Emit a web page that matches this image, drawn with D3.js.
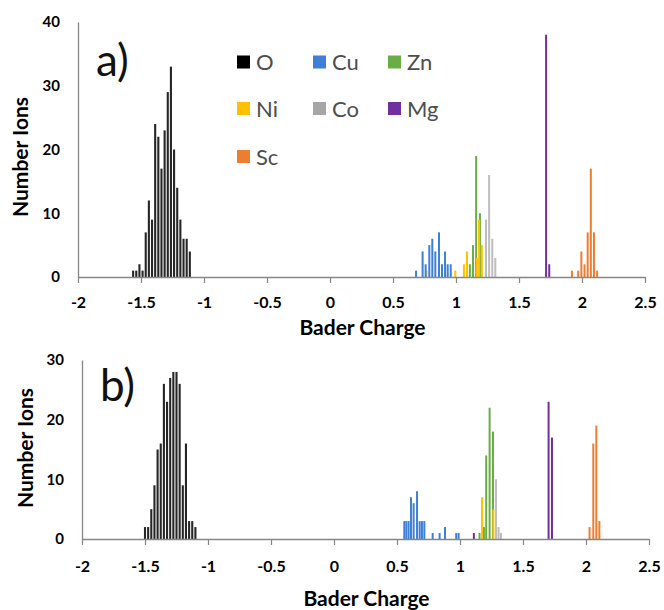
<!DOCTYPE html>
<html>
<head>
<meta charset="utf-8">
<script src="https://cdn.jsdelivr.net/npm/d3@7"></script>
<style>
  body { margin: 0; background: #fff; }
  svg { display: block; }
</style>
</head>
<body>
<svg id="chart" width="664" height="610"></svg>
<script>
// ---- data: [Bader charge, number of ions] ----
var elements = ["O", "Cu", "Zn", "Ni", "Co", "Mg", "Sc"];
var xTicks = [-2, -1.5, -1, -0.5, 0, 0.5, 1, 1.5, 2, 2.5];
var yTicksA = [0, 10, 20, 30, 40];
var yTicksB = [0, 10, 20, 30];

// panel a)
var aO = [[-1.5625,1],[-1.5375,1],[-1.5125,2],[-1.4875,1],[-1.4625,7],[-1.4375,12],[-1.4125,9],
          [-1.3875,24],[-1.3625,22],[-1.3375,17],[-1.3125,23],[-1.2875,29],[-1.2625,33],[-1.2375,20],
          [-1.2125,14],[-1.1875,9],[-1.1625,6],[-1.1375,6],[-1.1125,4]];
var aCu = [[0.683,1],[0.735,4],[0.759,2],[0.788,5],[0.812,6],[0.836,4],[0.865,7],[0.889,2],
           [0.913,4],[0.934,2],[0.958,2]];
var aZn = [[1.11,2],[1.135,5],[1.16,19],[1.19,10]];
var aNi = [[0.765,1],[0.995,1],[1.063,2],[1.087,4],[1.165,3],[1.183,9],[1.205,5]];
var aCo = [[1.238,9],[1.263,16],[1.288,6],[1.312,3]];
var aMg = [[1.715,38],[1.74,2]];
var aSc = [[1.92,1],[1.97,1],[1.995,4],[2.02,2],[2.045,7],[2.07,17],[2.095,7],[2.12,1]];

// panel b)
var bO = [[-1.5,2],[-1.475,2],[-1.45,5],[-1.425,9],[-1.4,15],[-1.375,16],[-1.35,26],[-1.325,23],
          [-1.3,27],[-1.275,28],[-1.25,28],[-1.225,26],[-1.2,9],[-1.175,16],[-1.15,3],[-1.125,3],[-1.1,2]];
var bCu = [[0.558,3],[0.574,3],[0.592,3],[0.611,7],[0.632,6],[0.659,8],[0.68,3],[0.698,3],[0.717,3],
           [0.783,1],[0.838,1],[0.881,2],[0.97,1],[0.989,1]];
var bZn = [[1.155,1],[1.19,2],[1.208,14],[1.235,22],[1.262,18]];
var bNi = [[1.175,7],[1.265,5]];
var bCo = [[1.286,10],[1.306,2],[1.325,1]];
var bMg = [[1.11,1],[1.703,23],[1.73,17]];
var bSc = [[2.028,2],[2.058,16],[2.082,19],[2.106,3]];

// ---- styles ----
var colors = {O: "#262626", Cu: "#3f7fd6", Zn: "#6aad45", Ni: "#ffc000", Co: "#bdbdbd", Mg: "#7030a0", Sc: "#ed7d31"};
var legendColors = {O: "#000000", Cu: "#3f7fd6", Zn: "#6aad45", Ni: "#ffc000", Co: "#a6a6a6", Mg: "#7030a0", Sc: "#ed7d31"};
var axisGrey = "#868686";
var font = "Lato, 'Open Sans', sans-serif";

var svg = d3.select("#chart");

function drawPanel(p) {
  var x = d3.scaleLinear().domain([-2, 2.5]).range([p.left, p.right]);
  var y = d3.scaleLinear().domain([0, p.yMax]).range([p.bottom, p.top]);
  var g = svg.append("g");

  // bars, drawn back to front
  var order = ["Co", "Zn", "Ni", "Cu", "Mg", "Sc", "O"];
  order.forEach(function (el) {
    var w = el === "O" ? 2.1 : 2;
    g.selectAll(null)
      .data(p.series[el])
      .enter().append("rect")
      .attr("x", function (d) { return x(d[0]) - w / 2; })
      .attr("y", function (d) { return y(d[1]); })
      .attr("width", w)
      .attr("height", function (d) { return y(0) - y(d[1]); })
      .attr("fill", colors[el]);
  });

  // x axis
  var gx = g.append("g")
    .attr("transform", "translate(0," + p.bottom + ")")
    .call(d3.axisBottom(x).tickValues(xTicks).tickSize(6).tickSizeOuter(0)
      .tickFormat(function (d) { return String(d); }));
  gx.select(".domain").attr("stroke", axisGrey).attr("stroke-width", 1.3);
  gx.selectAll(".tick line").attr("stroke", axisGrey).attr("stroke-width", 1.2);
  gx.selectAll(".tick text").attr("y", p.xLabelOffset).attr("dy", 0)
    .attr("fill", "#000").attr("font-size", 16).attr("font-weight", "bold").attr("font-family", font);

  // y axis
  var gy = g.append("g")
    .attr("transform", "translate(" + p.left + ",0)")
    .call(d3.axisLeft(y).tickValues(p.yTicks).tickSize(0).tickSizeOuter(0).tickPadding(18));
  gy.select(".domain").attr("stroke", axisGrey).attr("stroke-width", 1.3);
  gy.selectAll(".tick text").attr("fill", "#000").attr("font-size", 15)
    .attr("font-weight", "bold").attr("font-family", font);

  // axis titles
  g.append("text")
    .attr("x", (p.left + p.right) / 2 + 1).attr("y", p.xTitleY)
    .attr("text-anchor", "middle").attr("font-family", font)
    .attr("font-size", 21).attr("font-weight", "bold").text("Bader Charge");
  g.append("text")
    .attr("transform", "translate(" + p.yTitleX + "," + p.yTitleY + ") rotate(-90)")
    .attr("text-anchor", "middle").attr("font-family", font)
    .attr("font-size", 21).attr("font-weight", "bold").text("Number Ions");

  // panel letter
  g.append("text")
    .attr("x", p.left + 18).attr("y", p.letterY)
    .attr("font-family", font).attr("font-size", 44).attr("fill", "#111")
    .text(p.letter);
}

drawPanel({
  letter: "a)", left: 78, right: 645, top: 22, bottom: 277, yMax: 40, yTicks: yTicksA,
  xLabelOffset: 31, xTitleY: 335, yTitleX: 28, yTitleY: 157, letterY: 76,
  series: {O: aO, Cu: aCu, Zn: aZn, Ni: aNi, Co: aCo, Mg: aMg, Sc: aSc}
});

drawPanel({
  letter: "b)", left: 82, right: 649, top: 360, bottom: 539, yMax: 30, yTicks: yTicksB,
  xLabelOffset: 33, xTitleY: 606, yTitleX: 33, yTitleY: 448, letterY: 401,
  series: {O: bO, Cu: bCu, Zn: bZn, Ni: bNi, Co: bCo, Mg: bMg, Sc: bSc}
});

// legend (panel a only), 3 columns
var legendCols = [237, 313, 388];
var legendRows = [62, 108.5, 156.5];
var leg = svg.append("g");
elements.forEach(function (el, i) {
  var cx = legendCols[i % 3], cy = legendRows[Math.floor(i / 3)];
  leg.append("rect").attr("x", cx).attr("y", cy - 6.5).attr("width", 13).attr("height", 13)
    .attr("fill", legendColors[el]);
  leg.append("text").attr("x", cx + 19).attr("y", cy + 8)
    .attr("font-family", font).attr("font-size", 22).attr("fill", "#4d4d4d").text(el);
});
</script>
</body>
</html>
